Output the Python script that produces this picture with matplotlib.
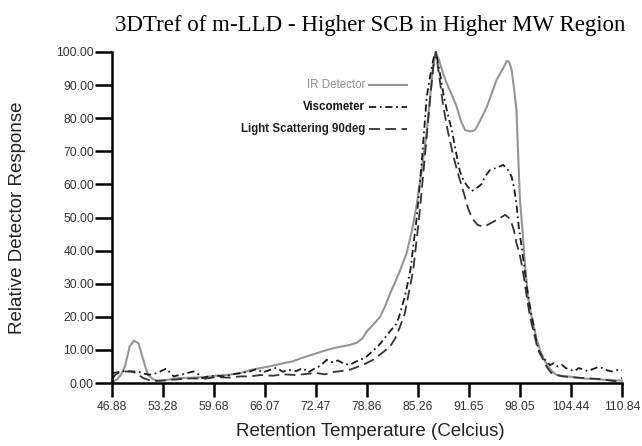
import matplotlib
matplotlib.use("Agg")
import matplotlib.pyplot as plt

# ---- data ----
ir_t = [46.88, 47.5, 48.0, 48.5, 49.1, 49.6, 50.2, 50.8, 51.4, 52.0, 52.5, 53.5, 54.5, 55.5, 57.0, 58.5,
        60.0, 61.5, 63.0, 64.2, 65.5, 67.0, 68.4, 69.5, 70.5, 71.5, 72.55, 73.6, 74.6, 75.6, 76.7, 77.6,
        78.3, 78.8, 79.6, 80.5, 81.1, 81.75, 82.4, 83.0, 83.8, 84.5, 85.1, 85.7, 86.35, 86.8, 87.1, 87.5,
        87.9, 88.4, 88.85, 89.5, 90.1, 90.6, 91.15, 91.8, 92.4, 93.1, 93.9, 94.5, 95.1, 95.8, 96.4, 96.7,
        97.0, 97.3, 97.6, 97.8, 98.05, 98.4, 98.7, 99.05, 99.4, 99.7, 100.1, 100.55, 101.0, 101.55, 102.1,
        102.65, 103.5, 104.3, 105.3, 106.3, 107.4, 108.5, 109.6, 110.84]
ir_v = [0.3, 1.0, 2.5, 5.0, 11.0, 12.8, 12.0, 7.0, 2.4, 1.2, 0.8, 0.8, 1.3, 1.5, 1.6, 1.8,
        2.2, 2.5, 3.0, 3.9, 4.5, 5.2, 6.0, 6.5, 7.4, 8.2, 9.0, 9.8, 10.5, 11.0, 11.5, 12.2,
        13.5, 15.5, 17.5, 20.0, 23.0, 27.0, 30.5, 34.0, 39.0, 46.0, 54.0, 64.0, 76.0, 87.0, 95.0, 100.0,
        97.5, 93.5, 90.6, 87.0, 83.5, 79.5, 76.4, 76.0, 76.4, 79.5, 83.5, 87.5, 91.5, 94.5, 97.3, 97.0,
        94.5, 89.0, 82.5, 70.0, 55.0, 45.0, 35.0, 26.0, 21.0, 18.0, 13.5, 10.0, 7.5, 5.0, 3.5,
        2.4, 2.1, 1.9, 1.6, 1.3, 1.2, 1.0, 0.9, 0.7]

visc_t = [46.88, 47.8, 48.5, 49.5, 50.2, 50.9, 51.6, 52.5, 53.2, 53.7, 54.2, 54.6, 55.5, 56.3, 57.1, 57.7,
          58.2, 59.0, 60.0, 61.0, 62.0, 63.0, 64.2, 65.0, 65.8, 66.5, 67.5, 68.3, 69.0, 70.0, 70.8, 71.5,
          72.3, 73.0, 73.8, 74.4, 75.2, 76.0, 76.7, 77.5, 78.2, 78.8, 79.5, 80.2, 80.9, 81.7, 82.6, 83.0,
          83.6, 84.3, 85.1, 85.7, 86.35, 86.8, 87.2, 87.5, 87.9, 88.4, 88.9, 89.5, 90.0, 90.5, 91.0, 91.5,
          92.0, 92.6, 93.2, 93.7, 94.3, 95.1, 95.95, 96.5, 97.0, 97.3, 97.6, 97.9, 98.25, 98.6, 98.9, 99.3,
          99.7, 100.1, 100.55, 101.2, 101.8, 102.3, 102.8, 103.3, 103.8, 104.3, 104.9, 105.4, 105.9, 106.5,
          107.2, 107.8, 108.5, 109.0, 109.6, 110.2, 110.84]
visc_v = [3.0, 3.3, 3.6, 3.5, 3.4, 2.8, 2.5, 3.0, 3.8, 4.4, 3.0, 2.0, 2.5, 3.0, 3.5, 2.6,
          1.5, 2.0, 2.2, 2.0, 2.6, 3.0, 3.5, 4.2, 3.2, 3.8, 4.6, 3.4, 4.0, 3.6, 4.5, 3.2,
          4.4, 5.2, 7.0, 6.3, 6.8, 5.8, 5.5, 6.5, 7.2, 8.0, 9.5, 11.0, 13.0, 15.5, 18.0, 21.0,
          26.0, 34.0, 50.0, 66.0, 86.5, 93.0, 98.0, 100.0, 95.0, 88.0, 82.0, 76.4, 70.0, 64.0, 61.0, 59.3,
          58.0, 58.9, 60.0, 62.5, 64.4, 65.0, 65.9, 64.5, 62.3, 59.0, 54.3, 47.0, 41.2, 35.0, 29.0, 23.0,
          18.0, 12.5, 9.0, 7.0, 5.4, 6.0, 5.0, 5.5, 4.5, 4.0, 3.6, 4.5, 4.2, 3.6,
          4.2, 4.8, 4.5, 3.8, 3.5, 3.9, 3.8]

ls_t = [46.88, 47.3, 47.8, 48.5, 49.5, 50.2, 50.8, 51.5, 52.5, 53.5, 54.5, 55.5, 57.0, 58.5, 60.0, 61.5,
        63.0, 64.2, 65.5, 67.0, 68.5, 70.0, 71.5, 72.55, 73.6, 74.6, 75.6, 76.7, 77.8, 78.8, 79.6, 80.6,
        81.75, 82.4, 83.0, 83.6, 84.0, 84.65, 85.4, 86.1, 86.8, 87.2, 87.5, 87.9, 88.4, 89.0, 89.7, 90.3,
        90.9, 91.5, 92.0, 92.7, 93.45, 94.0, 94.7, 95.5, 96.2, 96.6, 97.0, 97.3, 97.6, 98.0, 98.25, 98.6,
        98.9, 99.3, 99.7, 100.3, 100.97, 101.5, 102.0, 102.7, 103.4, 104.5, 105.3, 106.2, 107.2, 108.3,
        109.2, 110.0, 110.84]
ls_v = [1.0, 2.5, 3.3, 3.5, 3.4, 2.5, 1.5, 0.9, 0.6, 0.8, 1.0, 1.2, 1.4, 1.3, 1.8, 1.6,
        2.0, 2.0, 2.4, 2.2, 2.6, 2.4, 2.8, 3.0, 2.6, 3.3, 3.6, 4.0, 5.0, 6.0, 7.0, 8.8,
        11.0, 13.5, 17.0, 21.0, 26.0, 34.0, 50.0, 68.0, 86.5, 96.0, 100.0, 93.0, 84.0, 76.0, 68.4, 63.0,
        58.3, 53.0, 50.0, 47.8, 47.2, 47.8, 48.7, 49.8, 50.8, 50.0, 48.3, 46.0, 42.3, 39.0, 36.0, 31.0,
        26.0, 20.0, 16.0, 10.0, 7.0, 4.5, 3.0, 2.4, 2.0, 1.8, 1.6, 1.5, 1.3, 1.2,
        0.8, 0.5, 1.5]

x_ticks = [46.88, 53.28, 59.68, 66.07, 72.47, 78.86, 85.26, 91.65, 98.05, 104.44, 110.84]
y_ticks = [0, 10, 20, 30, 40, 50, 60, 70, 80, 90, 100]
series_names = ["IR Detector", "Viscometer", "Light Scattering 90deg"]

# ---- figure ----
fig = plt.figure(figsize=(6.42, 4.46), dpi=100)
ax = fig.add_axes([112 / 642, 1 - 383 / 446, 510 / 642, 331 / 446])

ax.plot(ir_t, ir_v, color="#959595", lw=1.5, clip_on=False)
ax.plot(visc_t, visc_v, color="#1a1a1a", lw=1.3, dashes=(4, 2, 1, 2), clip_on=False)
ax.plot(ls_t, ls_v, color="#333333", lw=1.3, dashes=(6, 3), clip_on=False)

ax.set_xlim(x_ticks[0], x_ticks[-1])
ax.set_ylim(0, 100)
ax.set_xticks(x_ticks)
ax.set_xticklabels([f"{t:.2f}" for t in x_ticks])
ax.set_yticks(y_ticks)
ax.set_yticklabels([f"{v:.2f}" for v in y_ticks])

for s in ["top", "right"]:
    ax.spines[s].set_visible(False)
for s in ["left", "bottom"]:
    ax.spines[s].set_linewidth(1.8)
    ax.spines[s].set_color("black")
ax.tick_params(axis="x", direction="out", length=10, width=1.8, labelsize=8.7,
               labelcolor="#333333", pad=3)
ax.tick_params(axis="y", direction="out", length=12, width=1.8, labelsize=8.7,
               labelcolor="#333333", pad=1)
for lab in ax.get_xticklabels() + ax.get_yticklabels():
    lab.set_family("Liberation Sans")

# manual legend (text right-aligned, line sample to the right)
leg_styles = [dict(color="#959595", lw=1.5),
              dict(color="#1a1a1a", lw=1.3, dashes=(4, 2, 1, 2)),
              dict(color="#333333", lw=1.3, dashes=(6, 3))]
leg_colors = ["#8f8f8f", "#111111", "#222222"]
leg_weights = ["normal", "bold", "bold"]
leg_y = [85, 107, 129]
for name, st, c, w, yp in zip(series_names, leg_styles, leg_colors, leg_weights, leg_y):
    yf = 1 - (yp - 52) / 331
    x0 = (369 - 112) / 510
    x1 = (407 - 112) / 510
    ax.plot([x0, x1], [yf, yf], transform=ax.transAxes, clip_on=False, **st)
    ax.text(x0 - 0.008, yf, name, transform=ax.transAxes, ha="right", va="center",
            fontsize=8.3, color=c, fontweight=w, family="Liberation Sans")

fig.text(370 / 642, 1 - 25 / 446, "3DTref of m-LLD - Higher SCB in Higher MW Region",
         ha="center", va="center", fontsize=16.5, family="Liberation Serif", color="black")
fig.text(18 / 642, 1 - 218 / 446, "Relative Detector Response", rotation=90,
         ha="center", va="center", fontsize=13.5, family="Liberation Sans", color="#222222")
fig.text(370 / 642, 1 - 432 / 446, "Retention Temperature (Celcius)",
         ha="center", va="center", fontsize=13.5, family="Liberation Sans", color="#222222")

fig.savefig("out.png", dpi=100)
